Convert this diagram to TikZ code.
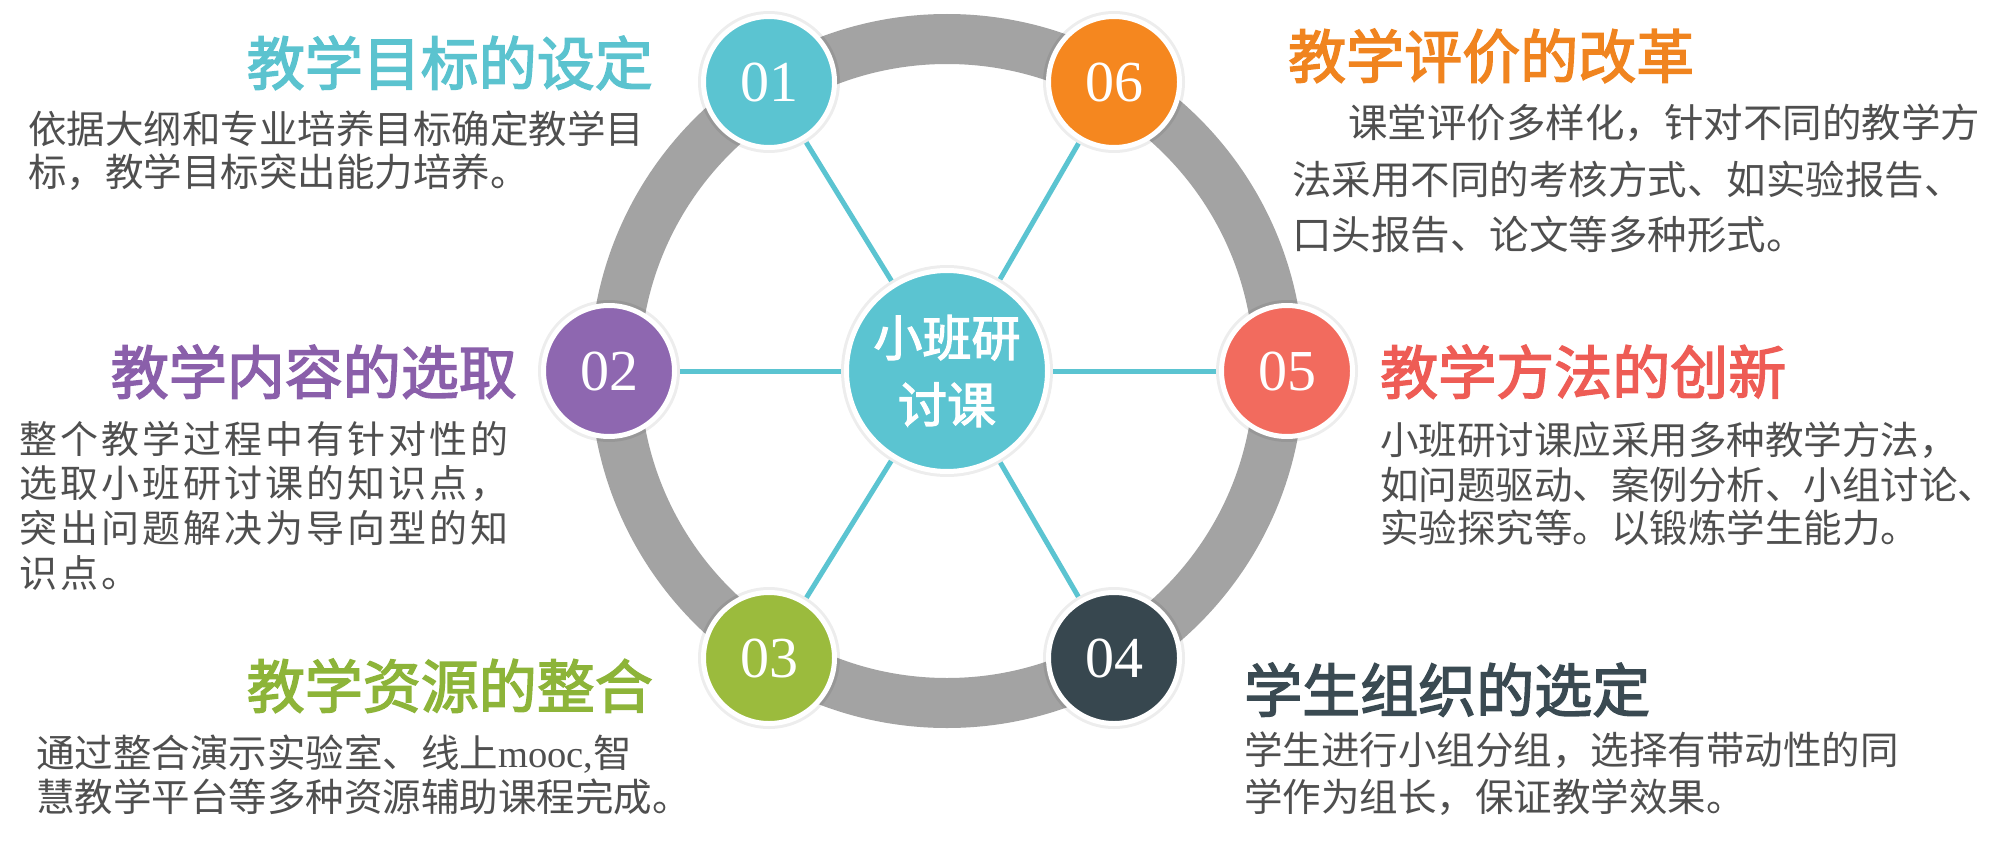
\documentclass[tikz,border=0pt]{standalone}
\usepackage{fontspec}
\newfontfamily\cjk{Noto Sans CJK SC}
\newfontfamily\cjkt{Noto Sans CJK SC}[FakeBold=2.5]
\newfontfamily\cjkls{Noto Sans CJK SC}[LetterSpace=8]
\newfontfamily\numfont{Liberation Serif}
\usetikzlibrary{backgrounds}
\definecolor{ringgray}{HTML}{A3A3A3}
\definecolor{cteal}{HTML}{5BC4D1}
\definecolor{cpurple}{HTML}{8E67B0}
\definecolor{cgreen}{HTML}{9BBB3D}
\definecolor{cdark}{HTML}{37474F}
\definecolor{ccoral}{HTML}{F26B5E}
\definecolor{corange}{HTML}{F5871F}
\definecolor{tteal}{HTML}{5BC3CF}
\definecolor{tpurple}{HTML}{8A5FAA}
\definecolor{tgreen}{HTML}{8DB439}
\definecolor{tdark}{HTML}{3A4A52}
\definecolor{tcoral}{HTML}{EE5C55}
\definecolor{torange}{HTML}{F0841F}
\definecolor{bodygray}{HTML}{4F4F4F}
\begin{document}
\begin{tikzpicture}[x=1pt,y=-1pt,
  ringpath/.style={draw=ringgray, line width=50pt},
  spoke/.style={draw=cteal, line width=5pt, shorten <=3pt, shorten >=3pt},
  halo/.style={fill=black, fill opacity=0.07},
  numcirc/.style={circle, draw=white, line width=5pt, minimum size=131pt, inner sep=0pt, text=white, font=\numfont\fontsize{58}{58}\selectfont},
  hub/.style={circle, draw=white, line width=5pt, minimum size=201pt, inner sep=0pt, fill=cteal, text=white, align=center, font=\cjkt\fontsize{49}{67}\selectfont},
  titletext/.style={inner sep=0pt, font=\cjkt\fontsize{58}{58}\selectfont, text height=51pt, text depth=7pt},
  bodytext/.style={inner sep=0pt, text=bodygray, font=\cjk\fontsize{38.5}{38.5}\selectfont, text height=33.8pt, text depth=4.7pt},
  bodywide/.style={bodytext, font=\cjk\fontsize{39.5}{39.5}\selectfont},
  bodyls/.style={bodytext, font=\cjkls\fontsize{38}{38}\selectfont},
]
\useasboundingbox (0,0) rectangle (2000,843);
\coordinate (O) at (947,371);
% circles
\node[hub] (hub) at (O) {小班研\\讨课};
\node[numcirc, fill=cteal]   (n1) at (769,82)   {01};
\node[numcirc, fill=cpurple] (n2) at (609,371)  {02};
\node[numcirc, fill=cgreen]  (n3) at (769,658)  {03};
\node[numcirc, fill=cdark]   (n4) at (1114,658) {04};
\node[numcirc, fill=ccoral]  (n5) at (1287,371) {05};
\node[numcirc, fill=corange] (n6) at (1114,82)  {06};
\begin{scope}[on background layer]
  \fill[white] (0,0) rectangle (2000,843);
  \draw[ringpath] (O) circle[radius=332pt];
  \foreach \n in {n1,n2,n3,n4,n5,n6}{
    \path[halo] (\n.center) circle[radius=71pt];
  }
  \path[halo] (hub.center) circle[radius=106pt];
  \foreach \n in {n1,n2,n3,n4,n5,n6}{
    \draw[spoke] (hub) -- (\n);
  }
\end{scope}
% block 01
\node[titletext, text=tteal, anchor=east] (t1) at (653,63) {教学目标的设定};
\node[bodytext, anchor=west] (b1a) at (28,129) {依据大纲和专业培养目标确定教学目};
\node[bodytext, anchor=west] (b1b) at (28,172) {标，教学目标突出能力培养。};
% block 02
\node[titletext, text=tpurple, anchor=east] (t2) at (517,372) {教学内容的选取};
\node[bodyls, anchor=west] (b2a) at (19,439) {整个教学过程中有针对性的};
\node[bodyls, anchor=west] (b2b) at (19,483) {选取小班研讨课的知识点，};
\node[bodyls, anchor=west] (b2c) at (19,528) {突出问题解决为导向型的知};
\node[bodyls, anchor=west] (b2d) at (19,573) {识点。};
% block 03
\node[titletext, text=tgreen, anchor=east] (t3) at (653,686) {教学资源的整合};
\node[bodytext, anchor=west] (b3a) at (36,753) {通过整合演示实验室、线上{\numfont mooc,}智};
\node[bodytext, anchor=west] (b3b) at (36,797) {慧教学平台等多种资源辅助课程完成。};
% block 04
\node[titletext, text=tdark, anchor=west] (t4) at (1244,690) {学生组织的选定};
\node[bodytext, anchor=west] (b4a) at (1244,750) {学生进行小组分组，选择有带动性的同};
\node[bodytext, anchor=west] (b4b) at (1244,797) {学作为组长，保证教学效果。};
% block 05
\node[titletext, text=tcoral, anchor=west] (t5) at (1380,372) {教学方法的创新};
\node[bodytext, anchor=west] (b5a) at (1380,440) {小班研讨课应采用多种教学方法，};
\node[bodytext, anchor=west] (b5b) at (1380,485) {如问题驱动、案例分析、小组讨论、};
\node[bodytext, anchor=west] (b5c) at (1380,528) {实验探究等。以锻炼学生能力。};
% block 06
\node[titletext, text=torange, anchor=west] (t6) at (1288,56) {教学评价的改革};
\node[bodywide, anchor=west] (b6a) at (1348,123) {课堂评价多样化，针对不同的教学方};
\node[bodywide, anchor=west] (b6b) at (1292,180) {法采用不同的考核方式、如实验报告、};
\node[bodywide, anchor=west] (b6c) at (1292,235) {口头报告、论文等多种形式。};
\end{tikzpicture}
\end{document}
